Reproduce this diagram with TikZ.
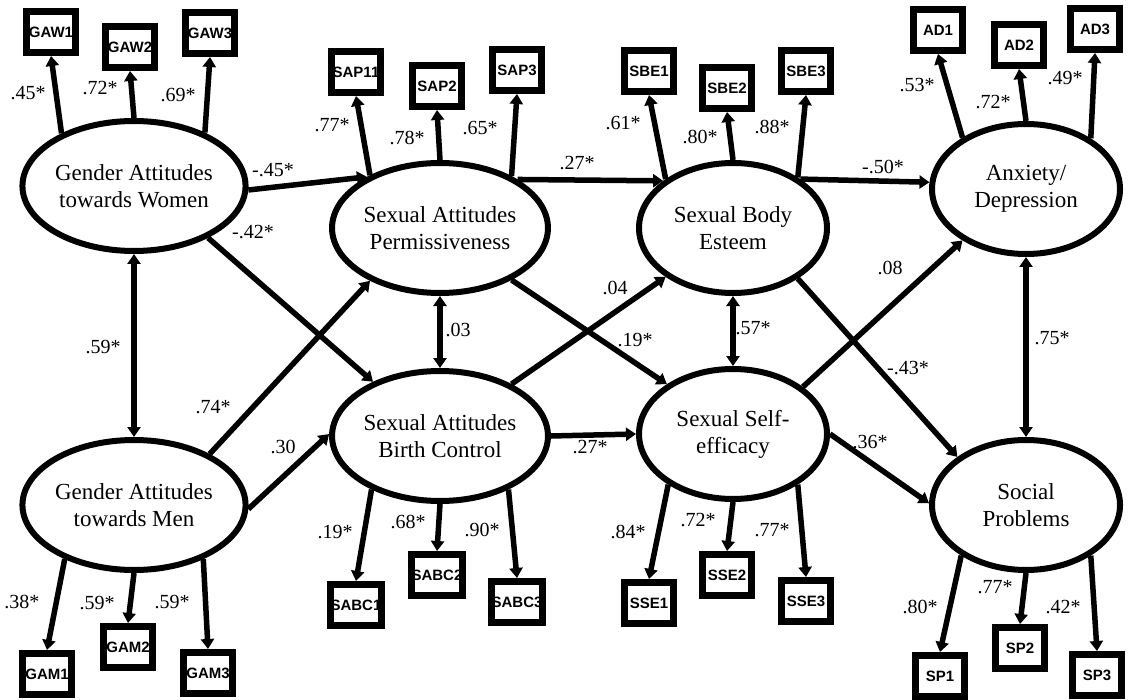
\documentclass[tikz,border=0pt]{standalone}
\usepackage{fontspec}
\setmainfont{Liberation Serif}
\newfontfamily\boxfont{Liberation Sans}
\usetikzlibrary{shapes.geometric,arrows.meta}

\begin{document}
\begin{tikzpicture}[x=1pt,y=-1pt,
  latent/.style={ellipse,draw,line width=6pt,minimum width=188pt,minimum height=130pt,
    inner sep=0pt,align=center,font=\fontsize{23}{27}\selectfont},
  indicator/.style={rectangle,draw,line width=7pt,minimum width=49pt,minimum height=41pt,
    inner sep=0pt,font=\boxfont\bfseries\fontsize{15}{17}\selectfont},
  arr/.style={line width=5.5pt,-{Triangle[length=10pt,width=13pt]}},
  dbl/.style={line width=5.5pt,{Triangle[length=10pt,width=13pt]}-{Triangle[length=10pt,width=13pt]}},
  coef/.style={font=\fontsize{20}{22}\selectfont,inner sep=0pt}]

\useasboundingbox (0,0) rectangle (1131,700);

% latent factors
\node[latent] (GAW)  at (134,186) {Gender Attitudes\\towards Women};
\node[latent] (GAM)  at (134,505) {Gender Attitudes\\towards Men};
\node[latent] (SAP)  at (440,228) {Sexual Attitudes\\Permissiveness};
\node[latent] (SABC) at (440,436) {Sexual Attitudes\\Birth Control};
\node[latent] (SBE)  at (733,228) {Sexual Body\\Esteem};
\node[latent] (SSE)  at (733,434) {Sexual Self-\\efficacy};
\node[latent] (AD)   at (1026,189) {Anxiety/\\Depression};
\node[latent] (SP)   at (1026,505) {Social\\Problems};

% observed indicators
\node[indicator] (GAW1) at (51,32) {GAW1};
\node[indicator] (GAW2) at (130,47) {GAW2};
\node[indicator] (GAW3) at (210,33) {GAW3};
\node[indicator] (SAP11) at (356,72) {SAP11};
\node[indicator] (SAP2) at (437,86) {SAP2};
\node[indicator] (SAP3) at (517,70) {SAP3};
\node[indicator] (SBE1) at (649,71) {SBE1};
\node[indicator] (SBE2) at (727,88) {SBE2};
\node[indicator] (SBE3) at (806,71) {SBE3};
\node[indicator] (AD1) at (938,30) {AD1};
\node[indicator] (AD2) at (1019,45) {AD2};
\node[indicator] (AD3) at (1095,29) {AD3};
\node[indicator] (GAM1) at (47,674) {GAM1};
\node[indicator] (GAM2) at (128,647) {GAM2};
\node[indicator] (GAM3) at (208,673) {GAM3};
\node[indicator] (SABC1) at (356,605) {SABC1};
\node[indicator] (SABC2) at (437,575) {SABC2};
\node[indicator] (SABC3) at (517,602) {SABC3};
\node[indicator] (SSE1) at (649,603) {SSE1};
\node[indicator] (SSE2) at (727,575) {SSE2};
\node[indicator] (SSE3) at (806,601) {SSE3};
\node[indicator] (SP1) at (940,676) {SP1};
\node[indicator] (SP2) at (1020,648) {SP2};
\node[indicator] (SP3) at (1097,675) {SP3};

% loadings
\draw[arr] (GAW.144) -- (GAW1.south);
\draw[arr] (GAW.north) -- (GAW2.south);
\draw[arr] (GAW.37) -- (GAW3.south);
\draw[arr] (SAP.143) -- (SAP11.south);
\draw[arr] (SAP.north) -- (SAP2.south);
\draw[arr] (SAP.36) -- (SAP3.south);
\draw[arr] (SBE.144) -- (SBE1.south);
\draw[arr] (SBE.north) -- (SBE2.south);
\draw[arr] (SBE.38) -- (SBE3.south);
\draw[arr] (AD.141) -- (AD1.south);
\draw[arr] (AD.north) -- (AD2.south);
\draw[arr] (AD.38) -- (AD3.south);
\draw[arr] (GAM.218) -- (GAM1.north);
\draw[arr] (GAM.south) -- (GAM2.north);
\draw[arr] (GAM.322) -- (GAM3.north);
\draw[arr] (SABC.218) -- (SABC1.north);
\draw[arr] (SABC.south) -- (SABC2.north);
\draw[arr] (SABC.322) -- (SABC3.north);
\draw[arr] (SSE.218) -- (SSE1.north);
\draw[arr] (SSE.south) -- (SSE2.north);
\draw[arr] (SSE.322) -- (SSE3.north);
\draw[arr] (SP.218) -- (SP1.north);
\draw[arr] (SP.south) -- (SP2.north);
\draw[arr] (SP.322) -- (SP3.north);

% structural paths
\draw[arr] (GAW.-2) -- (SAP.145);
\draw[arr] (SAP.32) -- (SBE.146);
\draw[arr] (SBE.36) -- (AD.176);
\draw[arr] (GAW.-35) -- (SABC.141);
\draw[arr] (GAM.34) -- (SAP.217);
\draw[arr] (GAM.-2) -- (SABC.179);
\draw[arr] (SABC.36) -- (SBE.216);
\draw[arr] (SAP.-36) -- (SSE.143);
\draw[arr] (SABC.east) -- (SSE.west);
\draw[arr] (SSE.34) -- (AD.219);
\draw[arr] (SBE.-38) -- (SP.145);
\draw[arr] (SSE.0) -- (SP.179);

% covariances
\draw[dbl] (GAW.south) -- (GAM.north);
\draw[dbl] (SAP.south) -- (SABC.north);
\draw[dbl] (SBE.south) -- (SSE.north);
\draw[dbl] (AD.south) -- (SP.north);

% loading estimates
\node[coef] (cGAW1) at (28,93) {.45*};
\node[coef] (cGAW2) at (100,88) {.72*};
\node[coef] (cGAW3) at (178,95) {.69*};
\node[coef] (cSAP1) at (332,125) {.77*};
\node[coef] (cSAP2) at (407,138) {.78*};
\node[coef] (cSAP3) at (480,128) {.65*};
\node[coef] (cSBE1) at (623,123) {.61*};
\node[coef] (cSBE2) at (700,137) {.80*};
\node[coef] (cSBE3) at (772,127) {.88*};
\node[coef] (cAD1) at (917,85) {.53*};
\node[coef] (cAD2) at (993,102) {.72*};
\node[coef] (cAD3) at (1065,78) {.49*};
\node[coef] (cGAM1) at (22,602) {.38*};
\node[coef] (cGAM2) at (97,603) {.59*};
\node[coef] (cGAM3) at (172,602) {.59*};
\node[coef] (cSABC1) at (335,532) {.19*};
\node[coef] (cSABC2) at (408,522) {.68*};
\node[coef] (cSABC3) at (482,530) {.90*};
\node[coef] (cSSE1) at (628,532) {.84*};
\node[coef] (cSSE2) at (698,520) {.72*};
\node[coef] (cSSE3) at (772,530) {.77*};
\node[coef] (cSP1) at (920,607) {.80*};
\node[coef] (cSP2) at (995,587) {.77*};
\node[coef] (cSP3) at (1063,607) {.42*};

% structural estimates
\node[coef] (pGAWSAP) at (273,170) {-.45*};
\node[coef] (pSAPSBE) at (577,163) {.27*};
\node[coef] (pSBEAD) at (883,167) {-.50*};
\node[coef] (pGAWSABC) at (253,232) {-.42*};
\node[coef] (pGAMSAP) at (213,407) {.74*};
\node[coef] (pGAMSABC) at (283,447) {.30};
\node[coef] (pSABCSBE) at (615,288) {.04};
\node[coef] (pSAPSSE) at (635,340) {.19*};
\node[coef] (pSABCSSE) at (590,447) {.27*};
\node[coef] (pSSEAD) at (890,268) {.08};
\node[coef] (pSBESP) at (908,368) {-.43*};
\node[coef] (pSSESP) at (870,442) {.36*};
\node[coef] (rGAWGAM) at (103,347) {.59*};
\node[coef] (rSAPSABC) at (458,330) {.03};
\node[coef] (rSBESSE) at (753,328) {.57*};
\node[coef] (rADSP) at (1052,338) {.75*};
\end{tikzpicture}
\end{document}
